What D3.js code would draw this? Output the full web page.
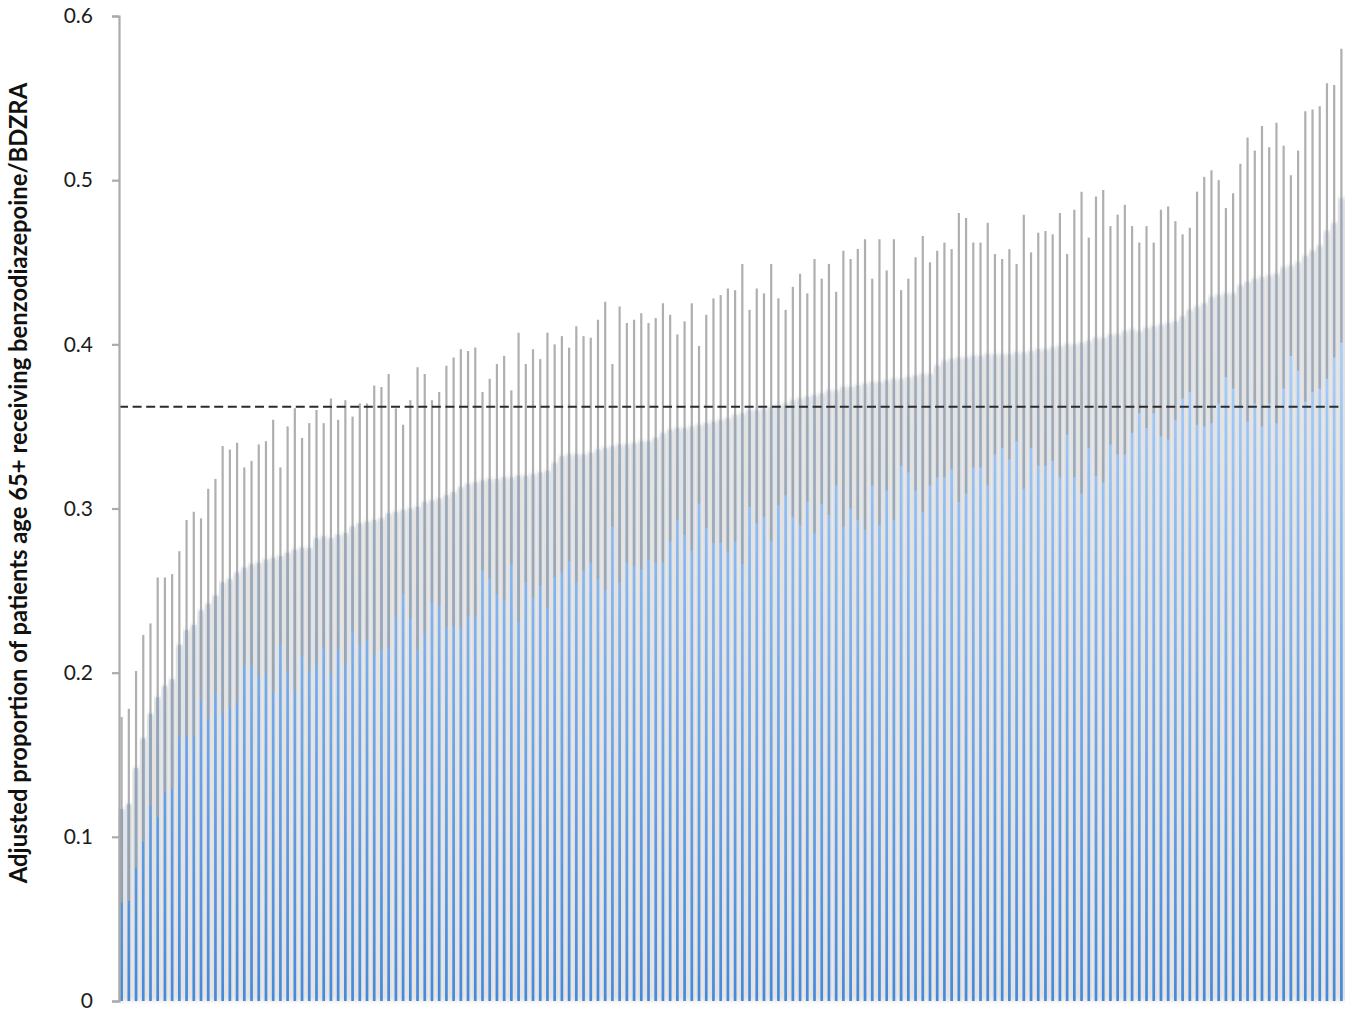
<!DOCTYPE html>
<html>
<head>
<meta charset="utf-8">
<script src="https://cdn.jsdelivr.net/npm/d3@7"></script>
<style>
  body { margin: 0; background: #fff; }
  svg { display: block; }
</style>
</head>
<body>
<div id="chart"></div>
<script>
// adjusted proportion per practice, sorted ascending
const rate = [
  0.117,0.120,0.142,0.160,0.175,0.185,0.192,0.196,0.217,0.226,0.229,0.238,0.242,0.247,0.255,0.257,0.261,0.264,0.266,0.267,0.269,0.270,0.271,0.273,0.275,0.276,0.276,0.282,
  0.283,0.282,0.284,0.285,0.289,0.291,0.292,0.293,0.294,0.297,0.298,0.299,0.300,0.301,0.304,0.305,0.306,0.308,0.310,0.313,0.315,0.316,0.317,0.318,0.318,0.319,0.319,0.320,
  0.320,0.321,0.322,0.323,0.328,0.332,0.333,0.333,0.333,0.334,0.336,0.337,0.338,0.339,0.339,0.340,0.341,0.341,0.343,0.346,0.348,0.349,0.349,0.350,0.351,0.352,0.353,0.354,
  0.355,0.357,0.358,0.360,0.360,0.361,0.362,0.363,0.364,0.366,0.367,0.368,0.369,0.370,0.372,0.372,0.374,0.374,0.375,0.376,0.377,0.377,0.378,0.379,0.379,0.380,0.381,0.382,
  0.382,0.387,0.390,0.391,0.392,0.392,0.393,0.393,0.394,0.394,0.394,0.394,0.395,0.395,0.396,0.397,0.397,0.398,0.399,0.400,0.400,0.401,0.402,0.404,0.404,0.406,0.406,0.408,0.409,
  0.408,0.410,0.411,0.412,0.413,0.414,0.417,0.421,0.423,0.425,0.429,0.430,0.431,0.431,0.436,0.438,0.440,0.441,0.442,0.443,0.447,0.448,0.450,0.454,0.457,0.460,0.469,0.474,0.489
];

// upper confidence limit
const upper = [
  0.173,0.178,0.201,0.223,0.230,0.258,0.258,0.260,0.274,0.293,0.298,0.294,0.312,0.318,0.338,0.336,0.340,0.325,0.329,0.339,0.341,0.354,0.325,0.350,0.361,0.343,0.352,0.360,
  0.352,0.367,0.354,0.366,0.356,0.364,0.364,0.375,0.374,0.382,0.361,0.351,0.366,0.386,0.382,0.366,0.371,0.387,0.392,0.397,0.396,0.398,0.371,0.379,0.388,0.393,0.372,0.407,
  0.388,0.397,0.391,0.407,0.400,0.405,0.398,0.411,0.405,0.404,0.415,0.426,0.388,0.423,0.413,0.415,0.419,0.413,0.416,0.425,0.418,0.406,0.414,0.425,0.399,0.418,0.428,0.430,
  0.434,0.433,0.449,0.421,0.434,0.431,0.449,0.428,0.421,0.435,0.443,0.431,0.452,0.440,0.449,0.432,0.457,0.452,0.458,0.464,0.440,0.464,0.445,0.464,0.433,0.440,0.453,0.466,
  0.450,0.457,0.462,0.458,0.480,0.477,0.462,0.462,0.474,0.455,0.452,0.458,0.449,0.479,0.456,0.468,0.469,0.467,0.480,0.455,0.482,0.493,0.465,0.490,0.494,0.472,0.479,0.485,0.472,
  0.462,0.472,0.462,0.482,0.484,0.475,0.467,0.471,0.493,0.502,0.506,0.500,0.483,0.492,0.510,0.526,0.518,0.533,0.520,0.535,0.521,0.503,0.518,0.542,0.543,0.545,0.559,0.558,0.580
];

// lower confidence limit
const lower = [
  0.060,0.061,0.081,0.097,0.119,0.112,0.127,0.129,0.161,0.161,0.161,0.183,0.172,0.188,0.175,0.179,0.182,0.204,0.205,0.198,0.199,0.188,0.217,0.201,0.189,0.210,0.201,0.206,
  0.215,0.199,0.214,0.205,0.225,0.217,0.220,0.211,0.214,0.215,0.234,0.248,0.233,0.214,0.224,0.243,0.241,0.228,0.228,0.227,0.234,0.234,0.262,0.257,0.248,0.244,0.266,0.231,
  0.255,0.246,0.253,0.239,0.258,0.261,0.268,0.255,0.262,0.267,0.257,0.250,0.289,0.255,0.267,0.265,0.263,0.269,0.267,0.267,0.280,0.293,0.284,0.274,0.303,0.288,0.279,0.279,
  0.274,0.280,0.266,0.301,0.291,0.295,0.280,0.302,0.308,0.295,0.290,0.304,0.285,0.303,0.296,0.314,0.289,0.300,0.293,0.287,0.314,0.290,0.311,0.293,0.326,0.322,0.311,0.298,
  0.314,0.319,0.319,0.324,0.304,0.309,0.325,0.325,0.314,0.333,0.337,0.330,0.341,0.312,0.337,0.326,0.326,0.329,0.319,0.345,0.319,0.309,0.337,0.320,0.316,0.339,0.333,0.333,0.346,
  0.358,0.349,0.358,0.344,0.342,0.354,0.367,0.371,0.351,0.350,0.352,0.364,0.380,0.373,0.362,0.353,0.364,0.350,0.364,0.352,0.373,0.393,0.384,0.365,0.371,0.373,0.379,0.392,0.401
];

const practices = rate.map((d, i) => "P" + (i + 1));
const overall = 0.362;
const yTicks = [0, 0.1, 0.2, 0.3, 0.4, 0.5, 0.6];

const width = 1347, height = 1019;
const margin = {top: 16, right: 2, bottom: 18, left: 118};

const svg = d3.select("#chart").append("svg")
    .attr("width", width)
    .attr("height", height);

const x = d3.scaleBand()
    .domain(practices)
    .range([margin.left, width - margin.right])
    .padding(0);

const y = d3.scaleLinear()
    .domain([0, 0.6])
    .range([height - margin.bottom, margin.top]);

const defs = svg.append("defs");
let grad = defs.append("linearGradient")
    .attr("id", "blueGrad")
    .attr("gradientUnits", "userSpaceOnUse")
    .attr("x1", 0).attr("x2", 0)
    .attr("y1", y(0)).attr("y2", y(0.4));
grad.append("stop").attr("offset", "0%").attr("stop-color", "#4689da");
grad.append("stop").attr("offset", "100%").attr("stop-color", "#a9cef9");

defs.append("filter").attr("id", "soft")
    .attr("x", "-5%").attr("y", "-5%").attr("width", "110%").attr("height", "110%")
    .append("feGaussianBlur").attr("stdDeviation", "0.6 2");

let data = practices.map((p, i) => ({p: p, v: rate[i], lo: lower[i], hi: upper[i]}));

// light grey body of each bar
svg.append("g")
    .attr("filter", "url(#soft)")
    .selectAll("rect")
    .data(data)
    .enter().append("rect")
    .attr("x", d => x(d.p))
    .attr("width", x.bandwidth())
    .attr("y", d => y(d.v))
    .attr("height", d => y(0) - y(d.v))
    .attr("fill", "#e2e2e2");

// narrow blue core
const coreW = 2.7;
svg.append("g")
    .selectAll("rect")
    .data(data)
    .enter().append("rect")
    .attr("x", d => x(d.p) + x.bandwidth() / 2 - coreW / 2)
    .attr("width", coreW)
    .attr("y", d => y(d.v))
    .attr("height", d => y(0) - y(d.v))
    .attr("fill", "url(#blueGrad)");

// confidence intervals
svg.append("g")
    .selectAll("line")
    .data(data)
    .enter().append("line")
    .attr("x1", d => x(d.p) + x.bandwidth() / 2)
    .attr("x2", d => x(d.p) + x.bandwidth() / 2)
    .attr("y1", d => y(d.lo))
    .attr("y2", d => y(d.hi))
    .attr("stroke", "#a4a4a4")
    .attr("stroke-opacity", 0.88)
    .attr("stroke-width", 2.2);

// overall mean
svg.append("line")
    .attr("x1", margin.left + 1)
    .attr("x2", width - 5)
    .attr("y1", y(overall))
    .attr("y2", y(overall))
    .attr("stroke", "#2b2b2b")
    .attr("stroke-width", 2)
    .attr("stroke-dasharray", "9,4.6");

// y axis
let yAxis = d3.axisLeft(y)
    .tickValues(yTicks)
    .tickSize(7)
    .tickPadding(19)
    .tickFormat(d => d === 0 ? "0" : d3.format(".1f")(d));

let ag = svg.append("g")
    .attr("transform", "translate(" + (margin.left + 1) + ",0)")
    .call(yAxis);
ag.select(".domain").attr("stroke", "#ababab").attr("stroke-width", 2.2);
ag.selectAll(".tick line").attr("stroke", "#ababab").attr("stroke-width", 2.2);
ag.selectAll(".tick text")
    .attr("fill", "#1c1c1c")
    .style("font-family", "Lato, sans-serif")
    .style("font-size", "21px");

svg.append("text")
    .attr("transform", "translate(27," + 483 + ") rotate(-90)")
    .attr("text-anchor", "middle")
    .style("font-family", "Lato, sans-serif")
    .style("font-weight", "bold")
    .style("font-size", "23.8px")
    .attr("fill", "#111")
    .text("Adjusted proportion of patients age 65+ receiving benzodiazepoine/BDZRA");
</script>
</body>
</html>
